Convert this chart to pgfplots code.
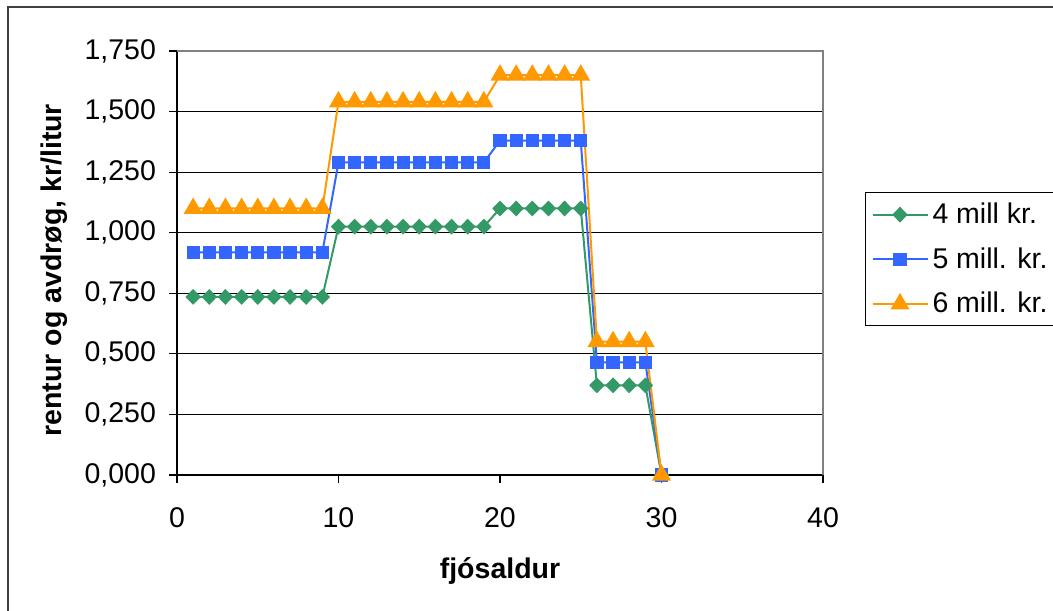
\documentclass[border=0pt]{standalone}
\usepackage{pgfplots}
\pgfplotsset{compat=1.18}
\usepackage{fontspec}
\setmainfont{Liberation Sans}
\definecolor{cgreen}{RGB}{51,153,102}
\definecolor{cblue}{RGB}{51,102,255}
\definecolor{corange}{RGB}{255,153,0}
\newcommand{\fs}{\fontsize{14.25pt}{17pt}\selectfont}
\begin{document}
\begin{tikzpicture}
\useasboundingbox (0,0) rectangle (526.5pt,305pt);
\draw[line width=1pt, black!75] (4pt,-5pt) -- (4pt,301.7pt) -- (540pt,301.7pt);
\begin{axis}[
  at={(88.5pt,67.5pt)}, anchor=south west,
  scale only axis, width=323pt, height=212pt,
  xmin=0, xmax=40, ymin=0, ymax=1.75,
  xtick={0,10,20,30,40},
  ytick={0,0.25,0.5,0.75,1,1.25,1.5,1.75},
  axis x line*=bottom, axis y line*=left,
  axis line style={black, line width=0.6pt},
  tick align=outside, major tick length=4pt,
  tick style={black, line width=0.6pt},
  ymajorgrids, grid style={black, line width=0.6pt},
  clip=false,
  /pgf/number format/assume math mode=true,
  yticklabel style={/pgf/number format/fixed, /pgf/number format/fixed zerofill, /pgf/number format/precision=3, /pgf/number format/use comma, xshift=-3pt},
  xticklabel style={/pgf/number format/fixed, /pgf/number format/precision=0, yshift=-9pt},
  every tick label/.append style={font=\fs},
  xlabel={fjósaldur},
  ylabel={rentur og avdrøg, kr/litur},
  xlabel style={font=\fs\bfseries, at={(axis description cs:0.5,-0.227)}, anchor=center},
  ylabel style={font=\fs\bfseries, at={(axis description cs:-0.1904,0.483)}, anchor=center},
  legend style={at={(rel axis cs:1.065,0.6667)}, anchor=north west,
    draw=black, line width=0.5pt, font=\fs, row sep=6.5pt,
    inner xsep=3pt, inner ysep=3pt},
  legend cell align=left,
  legend image code/.code={\draw[mark repeat=2,mark phase=2,#1] plot coordinates {(0pt,0pt) (13.75pt,0pt) (27.5pt,0pt)};},
]
\draw[gray, line width=0.8pt] (rel axis cs:0,1) -- (rel axis cs:1,1) -- (rel axis cs:1,0);
\addplot[cgreen, line width=1pt, mark=diamond*, mark size=3.25pt, mark options={solid, fill=cgreen, xscale=1.3}] coordinates {
(1,0.735)(2,0.735)(3,0.735)(4,0.735)(5,0.735)(6,0.735)(7,0.735)(8,0.735)(9,0.735)
(10,1.025)(11,1.025)(12,1.025)(13,1.025)(14,1.025)(15,1.025)(16,1.025)(17,1.025)(18,1.025)(19,1.025)
(20,1.10)(21,1.10)(22,1.10)(23,1.10)(24,1.10)(25,1.10)
(26,0.37)(27,0.37)(28,0.37)(29,0.37)(30,0)};
\addlegendentry{4 mill kr.}
\addplot[cblue, line width=1pt, mark=square*, mark size=2.8pt, mark options={solid, fill=cblue}] coordinates {
(1,0.919)(2,0.919)(3,0.919)(4,0.919)(5,0.919)(6,0.919)(7,0.919)(8,0.919)(9,0.919)
(10,1.29)(11,1.29)(12,1.29)(13,1.29)(14,1.29)(15,1.29)(16,1.29)(17,1.29)(18,1.29)(19,1.29)
(20,1.38)(21,1.38)(22,1.38)(23,1.38)(24,1.38)(25,1.38)
(26,0.465)(27,0.465)(28,0.465)(29,0.465)(30,0)};
\addlegendentry{5 mill. kr.}
\addplot[corange, line width=1pt, mark=triangle*, mark size=4.5pt, mark options={solid, fill=corange}] coordinates {
(1,1.10)(2,1.10)(3,1.10)(4,1.10)(5,1.10)(6,1.10)(7,1.10)(8,1.10)(9,1.10)
(10,1.54)(11,1.54)(12,1.54)(13,1.54)(14,1.54)(15,1.54)(16,1.54)(17,1.54)(18,1.54)(19,1.54)
(20,1.65)(21,1.65)(22,1.65)(23,1.65)(24,1.65)(25,1.65)
(26,0.55)(27,0.55)(28,0.55)(29,0.55)(30,0)};
\addlegendentry{6 mill. kr.}
\end{axis}
\end{tikzpicture}
\end{document}
